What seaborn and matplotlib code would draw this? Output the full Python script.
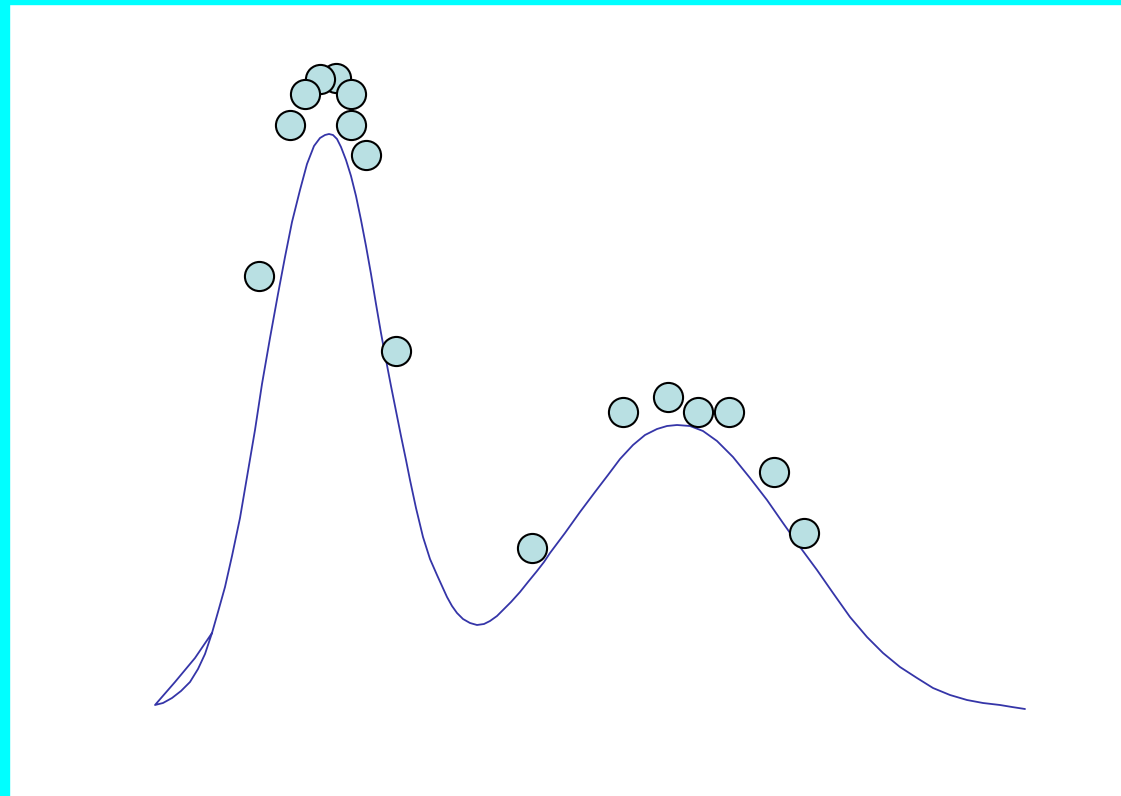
import numpy as np
import pandas as pd
import matplotlib
matplotlib.use("Agg")
import matplotlib.pyplot as plt
from matplotlib.patches import Rectangle
import seaborn as sns

# fitted curve (image-like coords, y grows downward); starts with the small loop at the left tail
curve_x = [212, 195, 175, 155, 163, 172, 181, 190, 198, 205, 212, 218, 225, 232, 240,
           247, 255, 262, 270, 278, 285, 292, 300, 307, 314, 320, 325, 329, 333, 337,
           341, 346, 351, 356, 361, 366, 371, 376, 381, 386, 391, 396, 401, 406, 410,
           416, 423, 430, 437, 442, 447, 452, 457, 463, 470, 477, 484, 490, 497, 503,
           511, 520, 528, 537, 544, 550, 565, 580, 595, 608, 620, 633, 645, 657, 667,
           677, 690, 703, 717, 733, 750, 767, 783, 800, 817, 833, 850, 867, 883, 900,
           917, 933, 950, 967, 983, 1000, 1012, 1025]
curve_y = [633, 658, 682, 705, 703, 698, 691, 682, 669, 654, 633, 612, 587, 556, 518,
           477, 430, 384, 338, 294, 257, 222, 190, 164, 146, 138, 135, 134, 135, 139,
           147, 160, 176, 196, 220, 246, 274, 304, 333, 360, 386, 411, 436, 460, 480,
           508, 537, 559, 575, 586, 597, 606, 613, 619, 623, 625, 624, 621, 616, 610,
           602, 592, 582, 571, 562, 553, 533, 512, 492, 475, 459, 445, 435, 429, 426,
           425, 426, 431, 441, 457, 478, 500, 523, 547, 570, 593, 617, 637, 653, 667,
           678, 688, 695, 700, 703, 705, 707, 709]

# observed points
obs_x = [336, 320, 305, 351, 290, 351, 366, 259, 396, 532, 623, 668, 698, 729, 774, 804]
obs_y = [78, 79, 94, 94, 125, 125, 155, 276, 351, 548, 412, 397, 412, 412, 472, 533]

curve = pd.DataFrame({"x": curve_x, "y": curve_y, "order": range(len(curve_x))})
obs = pd.DataFrame({"x": obs_x, "y": obs_y})

sns.set_style("white")
fig = plt.figure(figsize=(11.21, 7.96), dpi=100)
ax = fig.add_axes([0, 0, 1, 1])

sns.lineplot(data=curve, x="x", y="y", sort=False, estimator=None,
             color="#3535a8", linewidth=1.3, ax=ax)
sns.scatterplot(data=obs, x="x", y="y", s=440, color="#b9e0e3",
                edgecolor="black", linewidth=1.5, ax=ax, zorder=3)

ax.set_xlim(0, 1121)
ax.set_ylim(796, 0)
ax.set_axis_off()

# cyan frame on top and left edges
fig.patches.append(Rectangle((0, 0), 9 / 1121, 1, transform=fig.transFigure,
                             color="#00ffff", zorder=10))
fig.patches.append(Rectangle((0, 1 - 4 / 796), 1, 4 / 796, transform=fig.transFigure,
                             color="#00ffff", zorder=10))

fig.savefig("out.png", dpi=100)
